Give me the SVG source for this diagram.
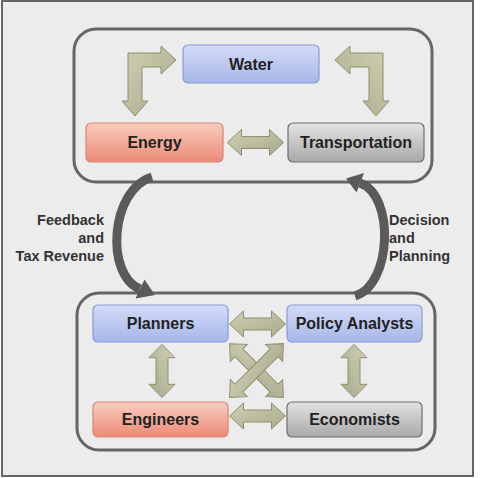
<svg xmlns="http://www.w3.org/2000/svg" width="480" height="478" viewBox="0 0 480 478">
<defs>
<linearGradient id="gBlue" x1="0" y1="0" x2="0" y2="1"><stop offset="0" stop-color="#d4dbf6"/><stop offset="1" stop-color="#a7b6ea"/></linearGradient>
<linearGradient id="gRed" x1="0" y1="0" x2="0" y2="1"><stop offset="0" stop-color="#f9cdbf"/><stop offset="1" stop-color="#ec8a78"/></linearGradient>
<linearGradient id="gGray" x1="0" y1="0" x2="0" y2="1"><stop offset="0" stop-color="#e2e2e2"/><stop offset="1" stop-color="#a9a9a9"/></linearGradient>
<linearGradient id="gOlive" x1="0" y1="0" x2="1" y2="1"><stop offset="0" stop-color="#cfcfb3"/><stop offset="1" stop-color="#a9a98a"/></linearGradient>
<polygon id="dbl" points="-28,0 -14,-13 -14,-6 14,-6 14,-13 28,0 14,13 14,6 -14,6 -14,13"/>
<polygon id="dblLong" points="-38,0 -25,-12 -25,-5.5 25,-5.5 25,-12 38,0 25,12 25,5.5 -25,5.5 -25,12"/>
<polygon id="elbow" points="128,53 161,53 161,46 176,60 161,74 161,67 142,67 142,101 148,101 135,116 122,101 128,101"/>
</defs>
<style>
.frame{fill:#ececec;stroke:#666;stroke-width:2}
.cont{fill:none;stroke:#666;stroke-width:3}
.blue{fill:url(#gBlue);stroke:#8b9bd2;stroke-width:1.2}
.red{fill:url(#gRed);stroke:#d58676;stroke-width:1.2}
.gray{fill:url(#gGray);stroke:#6e6e6e;stroke-width:1.2}
.lbl{font-family:"Liberation Sans",Arial,sans-serif;font-weight:bold;font-size:16px;fill:#222;text-anchor:middle}
.side{font-family:"Liberation Sans",Arial,sans-serif;font-weight:bold;font-size:14.5px;fill:#333}
.olive{fill:url(#gOlive);stroke:#8e8e70;stroke-width:1}
.curve{fill:none;stroke:#5a5a5a;stroke-width:9}
.head{fill:#5a5a5a}
</style>
<rect x="0" y="0" width="480" height="478" fill="#ffffff"/>
<rect class="frame" x="2" y="1" width="471" height="475"/>

<g id="top-container"><rect class="cont" x="74" y="29" width="358" height="153" rx="22"/></g>
<g id="bottom-container"><rect class="cont" x="77" y="293" width="358" height="157" rx="22"/></g>

<g id="connectors">
<use href="#elbow" class="olive"/>
<use href="#elbow" class="olive" transform="translate(511,0) scale(-1,1)"/>
<use href="#dbl" class="olive" transform="translate(255.5,142.5)"/>
<use href="#dbl" class="olive" transform="translate(257.5,324)"/>
<use href="#dbl" class="olive" transform="translate(257.5,416)"/>
<use href="#dbl" class="olive" transform="translate(162,371) rotate(90) scale(0.95,1)"/>
<use href="#dbl" class="olive" transform="translate(354,371) rotate(90) scale(0.95,1)"/>
<use href="#dblLong" class="olive" transform="translate(256.5,370.5) rotate(45)"/>
<use href="#dblLong" class="olive" transform="translate(256.5,370.5) rotate(-45)"/>
<path class="curve" d="M152,177 C110,190 105,275 140,289"/>
<polygon class="head" points="155,295 135.5,298.5 144.5,279.5"/>
<path class="curve" d="M355,296 C392,285 395,195 360,183"/>
<polygon class="head" points="346,178.5 364,173 356.5,192.5"/>
</g>

<g id="water"><rect class="blue" x="183" y="45" width="136" height="38" rx="5"/><text class="lbl" x="251" y="69.5">Water</text></g>
<g id="energy"><rect class="red" x="86" y="123" width="137" height="39" rx="5"/><text class="lbl" x="154.5" y="148">Energy</text></g>
<g id="transportation"><rect class="gray" x="288" y="123" width="136" height="39" rx="5"/><text class="lbl" x="356" y="148">Transportation</text></g>

<g id="planners"><rect class="blue" x="93" y="305" width="135" height="37" rx="5"/><text class="lbl" x="160.5" y="329">Planners</text></g>
<g id="policy-analysts"><rect class="blue" x="287" y="305" width="135" height="37" rx="5"/><text class="lbl" x="354.5" y="329">Policy Analysts</text></g>
<g id="engineers"><rect class="red" x="93" y="402" width="135" height="35" rx="5"/><text class="lbl" x="160.5" y="425">Engineers</text></g>
<g id="economists"><rect class="gray" x="287" y="402" width="135" height="35" rx="5"/><text class="lbl" x="354.5" y="425">Economists</text></g>

<g id="label-feedback">
<text class="side" text-anchor="end" x="104" y="225">Feedback</text>
<text class="side" text-anchor="end" x="104" y="243">and</text>
<text class="side" text-anchor="end" x="104" y="261">Tax Revenue</text>
</g>
<g id="label-decision">
<text class="side" x="389" y="225">Decision</text>
<text class="side" x="389" y="243">and</text>
<text class="side" x="389" y="261">Planning</text>
</g>
</svg>
